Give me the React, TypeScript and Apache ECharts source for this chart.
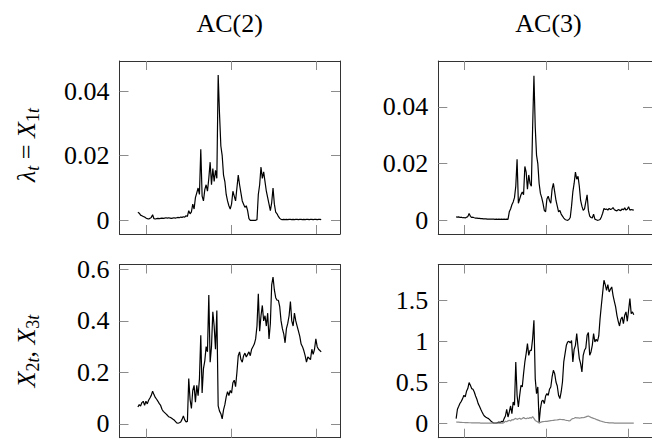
import React, { useEffect, useRef } from 'react';
import * as echarts from 'echarts';

// ---------- data ----------
const titles = ['AC(2)', 'AC(3)'];
const xTicks = [6, 69.5, 133];

const yTicksLambdaAC2 = [0, 0.02, 0.04];
const yTicksLambdaAC3 = [0, 0.02, 0.04];
const yTicksXAC2 = [0, 0.2, 0.4, 0.6];
const yTicksXAC3 = [0, 0.5, 1, 1.5];

// lambda_t = X_1t, AC(2)
const lambdaAC2 = [
  0.0025, 0.0022, 0.0016, 0.0014, 0.0012, 0.0010, 0.0007, 0.0005, 0.0004, 0.0006,
  0.0009, 0.0017, 0.0005, 0.0004, 0.0005, 0.0006, 0.0005, 0.0006, 0.0007, 0.0006,
  0.0007, 0.0008, 0.0007, 0.0008, 0.0007, 0.0006, 0.0007, 0.0008, 0.0007, 0.0008,
  0.0009, 0.0008, 0.0010, 0.0009, 0.0011, 0.0010, 0.0014, 0.0012, 0.0030, 0.0020,
  0.0026, 0.0050, 0.0035, 0.0070, 0.0085, 0.0100, 0.0080, 0.0220, 0.0075, 0.0060,
  0.0095, 0.0110, 0.0090, 0.0130, 0.0180, 0.0110, 0.0160, 0.0120, 0.0155, 0.0130,
  0.0450, 0.0330, 0.0230, 0.0200, 0.0140, 0.0120, 0.0080, 0.0060, 0.0045, 0.0035,
  0.0050, 0.0090, 0.0075, 0.0060, 0.0100, 0.0140, 0.0110, 0.0085, 0.0060, 0.0050,
  0.0040, 0.0045, 0.0030, 0.0005, 0.0000, 0.0000, 0.0000, 0.0000, 0.0000, 0.0002,
  0.0080, 0.0110, 0.0165, 0.0130, 0.0150, 0.0120, 0.0090, 0.0070, 0.0050, 0.0030,
  0.0055, 0.0100, 0.0050, 0.0025, 0.0020, 0.0012, 0.0006, 0.0003, 0.0002, 0.0003,
  0.0002, 0.0003, 0.0002, 0.0003, 0.0003, 0.0002, 0.0003, 0.0002, 0.0003, 0.0003,
  0.0002, 0.0003, 0.0003, 0.0002, 0.0003, 0.0002, 0.0003, 0.0003, 0.0002, 0.0003,
  0.0003, 0.0002, 0.0003, 0.0003, 0.0002, 0.0003, 0.0003, 0.0002,
];

// lambda_t = X_1t, AC(3)
const lambdaAC3 = [
  0.0012, 0.0011, 0.0012, 0.0010, 0.0011, 0.0009, 0.0010, 0.0008, 0.0011, 0.0013,
  0.0024, 0.0014, 0.0010, 0.0011, 0.0009, 0.0008, 0.0008, 0.0007, 0.0007, 0.0006,
  0.0006, 0.0005, 0.0005, 0.0005, 0.0004, 0.0004, 0.0004, 0.0004, 0.0004, 0.0004,
  0.0003, 0.0004, 0.0003, 0.0004, 0.0003, 0.0004, 0.0003, 0.0004, 0.0003, 0.0004,
  0.0003, 0.0030, 0.0040, 0.0055, 0.0065, 0.0080, 0.0120, 0.0215, 0.0060, 0.0075,
  0.0090, 0.0100, 0.0090, 0.0190, 0.0170, 0.0110, 0.0160, 0.0130, 0.0120, 0.0330,
  0.0510, 0.0330, 0.0230, 0.0200, 0.0130, 0.0095, 0.0080, 0.0060, 0.0035, 0.0030,
  0.0075, 0.0085, 0.0070, 0.0060, 0.0110, 0.0130, 0.0100, 0.0070, 0.0050, 0.0030,
  0.0035, 0.0022, 0.0015, 0.0008, 0.0003, 0.0001, 0.0000, 0.0003, 0.0010, 0.0050,
  0.0100, 0.0130, 0.0170, 0.0145, 0.0155, 0.0120, 0.0070, 0.0050, 0.0035, 0.0040,
  0.0065, 0.0090, 0.0035, 0.0015, 0.0010, 0.0008, 0.0022, 0.0004, 0.0002, 0.0000,
  0.0001, 0.0003, 0.0012, 0.0025, 0.0042, 0.0038, 0.0040, 0.0036, 0.0042, 0.0038,
  0.0040, 0.0045, 0.0037, 0.0035, 0.0033, 0.0038, 0.0036, 0.0034, 0.0040, 0.0037,
  0.0044, 0.0036, 0.0039, 0.0048, 0.0036, 0.0038, 0.0037, 0.0036,
];

// X_2t, AC(2)
const x2AC2 = [
  0.066, 0.075, 0.070, 0.083, 0.088, 0.072, 0.088, 0.078, 0.092, 0.101,
  0.111, 0.127, 0.114, 0.103, 0.096, 0.088, 0.079, 0.072, 0.057, 0.049,
  0.044, 0.039, 0.034, 0.028, 0.026, 0.023, 0.019, 0.016, 0.010, 0.004,
  0.003, 0.005, 0.008, 0.018, 0.031, 0.016, 0.008, 0.010, 0.176, 0.095,
  0.060, 0.130, 0.150, 0.085, 0.150, 0.110, 0.175, 0.344, 0.120, 0.215,
  0.245, 0.300, 0.280, 0.500, 0.240, 0.300, 0.435, 0.380, 0.290, 0.440,
  0.070, 0.050, 0.040, 0.020, 0.055, 0.075, 0.105, 0.125, 0.110, 0.130,
  0.120, 0.160, 0.170, 0.145, 0.200, 0.265, 0.280, 0.250, 0.240, 0.265,
  0.275, 0.260, 0.270, 0.280, 0.265, 0.290, 0.300, 0.310, 0.330, 0.380,
  0.505, 0.360, 0.420, 0.460, 0.400, 0.420, 0.380, 0.430, 0.330, 0.390,
  0.540, 0.570, 0.520, 0.490, 0.480, 0.480, 0.455, 0.400, 0.370, 0.350,
  0.315, 0.370, 0.390, 0.420, 0.475, 0.400, 0.380, 0.430, 0.400, 0.380,
  0.360, 0.340, 0.310, 0.300, 0.285, 0.265, 0.240, 0.260, 0.255, 0.250,
  0.290, 0.270, 0.290, 0.330, 0.300, 0.290, 0.285, 0.280,
];

// X_2t, AC(3)
const x2AC3 = [
  0.057, 0.171, 0.207, 0.244, 0.268, 0.301, 0.341, 0.321, 0.390, 0.423,
  0.496, 0.463, 0.423, 0.415, 0.382, 0.333, 0.293, 0.240, 0.207, 0.171,
  0.138, 0.106, 0.085, 0.073, 0.065, 0.057, 0.041, 0.024, 0.012, 0.002,
  0.002, 0.003, 0.008, 0.016, 0.008, 0.024, 0.016, 0.057, 0.089, 0.171,
  0.077, 0.138, 0.211, 0.118, 0.260, 0.220, 0.748, 0.341, 0.199, 0.341,
  0.463, 0.443, 0.606, 0.748, 0.850, 0.972, 0.829, 0.890, 0.890, 1.033,
  1.256, 0.545, 0.362, 0.443, 0.010, 0.179, 0.268, 0.280, 0.240, 0.333,
  0.362, 0.341, 0.415, 0.443, 0.565, 0.646, 0.606, 0.504, 0.455, 0.341,
  0.301, 0.382, 0.504, 0.748, 0.850, 0.951, 0.992, 1.000, 0.980, 1.008,
  0.748, 0.902, 0.951, 1.093, 0.931, 0.789, 0.728, 0.626, 0.829, 0.890,
  0.919, 1.073, 1.106, 0.829, 0.870, 0.951, 1.093, 0.992, 1.024, 1.000,
  1.065, 1.276, 1.439, 1.593, 1.744, 1.691, 1.622, 1.691, 1.602, 1.634,
  1.663, 1.561, 1.488, 1.419, 1.317, 1.244, 1.187, 1.268, 1.297, 1.215,
  1.317, 1.358, 1.244, 1.378, 1.520, 1.337, 1.358, 1.325,
];

// X_3t, AC(3)
const x3AC3 = [
  0.016, 0.015, 0.014, 0.012, 0.011, 0.010, 0.010, 0.009, 0.008, 0.008,
  0.007, 0.007, 0.006, 0.006, 0.005, 0.005, 0.004, 0.004, 0.004, 0.003,
  0.003, 0.003, 0.002, 0.002, 0.002, 0.002, 0.002, 0.002, 0.002, 0.002,
  0.002, 0.002, 0.002, 0.002, 0.002, 0.002, 0.002, 0.010, 0.025, 0.018,
  0.030, 0.038, 0.028, 0.045, 0.040, 0.052, 0.060, 0.048, 0.055, 0.062,
  0.050, 0.058, 0.070, 0.060, 0.055, 0.065, 0.058, 0.072, 0.062, 0.082,
  0.060, 0.035, 0.025, 0.015, 0.002, 0.012, 0.018, 0.020, 0.022, 0.025,
  0.023, 0.027, 0.030, 0.032, 0.034, 0.036, 0.038, 0.040, 0.042, 0.045,
  0.048, 0.046, 0.044, 0.045, 0.040, 0.036, 0.034, 0.030, 0.032, 0.050,
  0.058, 0.062, 0.070, 0.066, 0.068, 0.064, 0.066, 0.070, 0.068, 0.072,
  0.078, 0.085, 0.088, 0.080, 0.072, 0.066, 0.060, 0.055, 0.048, 0.042,
  0.036, 0.030, 0.025, 0.020, 0.016, 0.012, 0.010, 0.008, 0.006, 0.005,
  0.004, 0.004, 0.003, 0.003, 0.003, 0.003, 0.003, 0.003, 0.003, 0.003,
  0.003, 0.003, 0.003, 0.003, 0.003, 0.003, 0.003, 0.003,
];

// ---------- layout / style ----------
const FONT = 'Liberation Serif';
const FRAME = '#333';
const TICK = '#8c8c8c';
const X_MIN = -13.75;
const X_MAX = 151.05;

const grids = [
  { left: 119.5, top: 61, width: 220.5, height: 173 },
  { left: 438.3, top: 61, width: 220.5, height: 173 },
  { left: 119.5, top: 264.5, width: 220.5, height: 173.2 },
  { left: 438.3, top: 264.5, width: 220.5, height: 173.2 },
];
const yRanges: [number, number][] = [
  [-0.00424, 0.04932],
  [-0.00483, 0.0562],
  [-0.0532, 0.6188],
  [-0.1756, 1.9366],
];
const yTickSets = [yTicksLambdaAC2, yTicksLambdaAC3, yTicksXAC2, yTicksXAC3];

const toPairs = (arr: number[]) => arr.map((v, i) => [i, v]);

const rich = {
  i: { fontFamily: FONT, fontSize: 26, fontStyle: 'italic', lineHeight: 30, fill: '#000' },
  n: { fontFamily: FONT, fontSize: 26, lineHeight: 30, fill: '#000' },
  s: { fontFamily: FONT, fontSize: 18, fontStyle: 'italic', lineHeight: 18, padding: [12, 0, 0, 0], fill: '#000' },
  u: { fontFamily: FONT, fontSize: 18, lineHeight: 18, padding: [12, 0, 0, 0], fill: '#000' },
};

export default function App() {
  const ref = useRef<HTMLDivElement>(null);

  useEffect(() => {
    document.body.style.margin = '0';
    if (!ref.current) return;
    const chart = echarts.init(ref.current, null, { renderer: 'svg' });

    const xAxis: any[] = [];
    const yAxis: any[] = [];
    grids.forEach((_, g) => {
      ['bottom', 'top'].forEach((pos) => {
        xAxis.push({
          type: 'value',
          gridIndex: g,
          position: pos,
          min: X_MIN,
          max: X_MAX,
          axisLine: { show: true, onZero: false, lineStyle: { color: FRAME, width: 1 } },
          axisTick: { show: true, inside: true, length: 9, customValues: xTicks, lineStyle: { color: TICK, width: 1 } },
          axisLabel: { show: false },
          splitLine: { show: false },
        });
      });
      ['left', 'right'].forEach((pos) => {
        yAxis.push({
          type: 'value',
          gridIndex: g,
          position: pos,
          min: yRanges[g][0],
          max: yRanges[g][1],
          axisLine: { show: true, onZero: false, lineStyle: { color: FRAME, width: 1 } },
          axisTick: { show: true, inside: true, length: 9, customValues: yTickSets[g], lineStyle: { color: TICK, width: 1 } },
          axisLabel: {
            show: pos === 'left',
            customValues: yTickSets[g],
            margin: 10,
            fontFamily: FONT,
            fontSize: 26,
            color: '#000',
            formatter: (v: number) => String(v),
          },
          splitLine: { show: false },
        });
      });
    });

    const line = (data: number[], g: number, color: string) => ({
      type: 'line',
      xAxisIndex: 2 * g,
      yAxisIndex: 2 * g,
      data: toPairs(data),
      showSymbol: false,
      symbol: 'none',
      lineStyle: { color, width: 1.2 },
      itemStyle: { color },
      emphasis: { disabled: true },
    });

    chart.setOption({
      animation: false,
      grid: grids,
      xAxis,
      yAxis,
      series: [
        line(lambdaAC2, 0, '#000'),
        line(lambdaAC3, 1, '#000'),
        line(x2AC2, 2, '#000'),
        line(x2AC3, 3, '#000'),
        line(x3AC3, 3, '#8a8a8a'),
      ],
      graphic: [
        { type: 'text', x: 229.7, y: 23, style: { text: titles[0], fontFamily: FONT, fontSize: 26, fill: '#000', align: 'center', verticalAlign: 'middle' } },
        { type: 'text', x: 548.5, y: 23, style: { text: titles[1], fontFamily: FONT, fontSize: 26, fill: '#000', align: 'center', verticalAlign: 'middle' } },
        {
          type: 'text', x: 26.5, y: 145, rotation: Math.PI / 2,
          style: { text: '{i|λ}{s|t}{n| = }{i|X}{u|1}{s|t}', rich, align: 'center', verticalAlign: 'middle' },
        },
        {
          type: 'text', x: 26.5, y: 351, rotation: Math.PI / 2,
          style: { text: '{i|X}{u|2}{s|t}{n|, }{i|X}{u|3}{s|t}', rich, align: 'center', verticalAlign: 'middle' },
        },
      ],
    });

    return () => chart.dispose();
  }, []);

  return <div ref={ref} style={{ width: 652, height: 440 }} />;
}
